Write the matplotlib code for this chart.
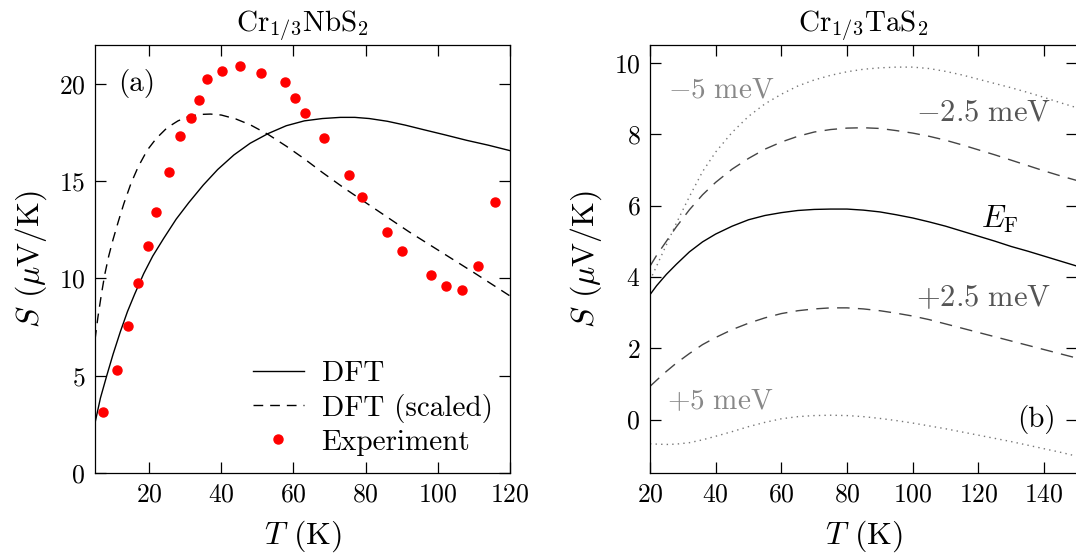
import matplotlib
matplotlib.use("Agg")
import matplotlib.pyplot as plt

plt.rcParams["font.family"] = "serif"
plt.rcParams["font.serif"] = ["cmr10"]
plt.rcParams["mathtext.fontset"] = "cm"
plt.rcParams["axes.formatter.use_mathtext"] = True
plt.rcParams["axes.unicode_minus"] = True

# --- panel (a): Cr1/3NbS2 ---
T_exp = [7.1, 11.2, 14.2, 16.9, 19.6, 22.0, 25.6, 28.5, 31.6, 33.8, 36.1, 40.1,
         45.1, 51.0, 57.7, 60.4, 63.1, 68.4, 75.3, 79.0, 86.0, 90.0, 98.1, 102.3,
         106.8, 111.2, 115.8]
S_exp = [3.15, 5.3, 7.55, 9.76, 11.67, 13.4, 15.49, 17.3, 18.23, 19.17, 20.25, 20.66,
         20.9, 20.56, 20.1, 19.27, 18.49, 17.2, 15.32, 14.21, 12.38, 11.4, 10.18, 9.62,
         9.4, 10.65, 13.92]

T_dft = [5, 6.5, 8.25, 10.0, 12.0, 14.0, 16.0, 18.5, 21.0, 24.0, 27.5, 31.0, 35.0,
         39.0, 43.5, 48.0, 53.0, 58.0, 63.0, 68.0, 73.0, 77.0, 81.0, 86.0, 91.0,
         96.0, 102.0, 108.0, 114.0, 120]
S_dft = [2.57, 3.85, 5.0, 6.1, 7.25, 8.3, 9.2, 10.25, 11.15, 12.05, 13.05, 13.9, 14.8,
         15.6, 16.35, 16.95, 17.45, 17.85, 18.1, 18.22, 18.28, 18.28, 18.22, 18.08, 17.88,
         17.65, 17.38, 17.1, 16.85, 16.57]

T_scl = [5, 5.8, 6.7, 7.7, 8.8, 10.0, 11.5, 13.0, 15.0, 17.0, 19.5, 22.0, 25.0,
         28.0, 31.0, 34.0, 37.0, 40.0, 44.0, 48.0, 53.0, 58.0, 63.0, 68.0, 74.0,
         80.0, 86.0, 92.0, 98.0, 104.0, 110.0, 115.0, 120]
S_scl = [6.85, 8.0, 9.1, 10.2, 11.15, 12.0, 12.95, 13.85, 14.9, 15.75, 16.6, 17.2, 17.75,
         18.1, 18.33, 18.43, 18.45, 18.4, 18.2, 17.9, 17.4, 16.8, 16.15, 15.45, 14.65,
         13.9, 13.15, 12.4, 11.7, 11.0, 10.3, 9.7, 9.1]

# --- panel (b): Cr1/3TaS2 ---
T_b = [20, 22, 25, 28, 32, 36, 40, 45, 50, 55, 60, 65, 70, 75, 80, 85, 90, 95,
       100, 105, 110, 115, 120, 125, 130, 135, 140, 145, 150]
S_ef = [3.5, 3.75, 4.07, 4.35, 4.7, 4.98, 5.2, 5.42, 5.6, 5.72, 5.8, 5.86, 5.89,
        5.9, 5.9, 5.87, 5.82, 5.74, 5.65, 5.54, 5.42, 5.28, 5.14, 5.0, 4.85, 4.72,
        4.58, 4.44, 4.3]
S_m25 = [4.3, 4.6, 5.0, 5.4, 5.88, 6.3, 6.65, 7.02, 7.32, 7.58, 7.78, 7.94, 8.06,
         8.13, 8.17, 8.18, 8.16, 8.1, 8.03, 7.94, 7.83, 7.7, 7.56, 7.42, 7.27, 7.12,
         6.97, 6.83, 6.7]
S_m5 = [3.9, 4.3, 4.9, 5.5, 6.25, 6.95, 7.5, 8.05, 8.5, 8.85, 9.12, 9.35, 9.52,
        9.65, 9.75, 9.82, 9.86, 9.88, 9.88, 9.84, 9.76, 9.66, 9.54, 9.42, 9.3, 9.17,
        9.03, 8.88, 8.74]
S_p25 = [0.93, 1.1, 1.35, 1.58, 1.85, 2.1, 2.3, 2.52, 2.7, 2.85, 2.97, 3.05, 3.1,
         3.13, 3.13, 3.1, 3.05, 2.98, 2.9, 2.8, 2.68, 2.56, 2.44, 2.32, 2.2, 2.08,
         1.96, 1.84, 1.72]
S_p5 = [-0.68, -0.69, -0.7, -0.69, -0.65, -0.57, -0.47, -0.34, -0.2, -0.08, 0.02, 0.08, 0.11,
        0.12, 0.11, 0.08, 0.03, -0.03, -0.1, -0.18, -0.26, -0.35, -0.44, -0.53, -0.62,
        -0.72, -0.82, -0.92, -1.03]

W, H = 1076, 554
fig = plt.figure(figsize=(W / 100, H / 100), dpi=100)
ax1 = fig.add_axes([95 / W, (H - 473) / H, 415 / W, 428 / H])
ax2 = fig.add_axes([650 / W, (H - 473) / H, 427 / W, 428 / H])

ax1.plot(T_dft, S_dft, color="black", lw=1.0, label="DFT")
ax1.plot(T_scl, S_scl, color="black", lw=1.0, dashes=(7, 5), label="DFT (scaled)")
ax1.plot(T_exp, S_exp, "o", color="red", ms=6.5, mec="red", label="Experiment")
ax1.set_xlim(5, 120)
ax1.set_ylim(0, 22)
ax1.set_xticks([20, 40, 60, 80, 100, 120])
ax1.set_yticks([0, 5, 10, 15, 20])
ax1.set_title(r"Cr$_{1/3}$NbS$_2$", fontsize=21, pad=9)
ax1.text(0.055, 0.91, "(a)", transform=ax1.transAxes, fontsize=21, va="center")
ax1.legend(loc="lower right", bbox_to_anchor=(1.0, 0.0), frameon=False, fontsize=21,
           handlelength=1.75, handletextpad=0.6, labelspacing=0.22, borderaxespad=0.2)

ax2.plot(T_b, S_m5, color="#777777", lw=1.0, dashes=(1, 3))
ax2.plot(T_b, S_m25, color="#444444", lw=1.0, dashes=(9, 6))
ax2.plot(T_b, S_ef, color="black", lw=1.0)
ax2.plot(T_b, S_p25, color="#444444", lw=1.0, dashes=(9, 6))
ax2.plot(T_b, S_p5, color="#777777", lw=1.0, dashes=(1, 3))
ax2.set_xlim(20, 150)
ax2.set_ylim(-1.5, 10.5)
ax2.set_xticks([20, 40, 60, 80, 100, 120, 140])
ax2.set_yticks([0, 2, 4, 6, 8, 10])
ax2.set_title(r"Cr$_{1/3}$TaS$_2$", fontsize=21, pad=9)
ax2.text(0.042, 0.895, r"$-5\ \mathrm{meV}$", transform=ax2.transAxes, fontsize=21,
         va="center", color="#888888")
ax2.text(0.624, 0.841, r"$-2.5\ \mathrm{meV}$", transform=ax2.transAxes, fontsize=22,
         va="center", color="#555555")
ax2.text(0.775, 0.592, r"$E_\mathrm{F}$", transform=ax2.transAxes, fontsize=22,
         va="center", color="black")
ax2.text(0.624, 0.409, r"$+2.5\ \mathrm{meV}$", transform=ax2.transAxes, fontsize=22,
         va="center", color="#555555")
ax2.text(0.04, 0.166, r"$+5\ \mathrm{meV}$", transform=ax2.transAxes, fontsize=21,
         va="center", color="#888888")
ax2.text(0.951, 0.124, "(b)", transform=ax2.transAxes, fontsize=21, va="center",
         ha="right")

for ax in (ax1, ax2):
    ax.tick_params(direction="in", top=True, right=True, length=8, width=0.9,
                   labelsize=18.5, pad=7)
    for sp in ax.spines.values():
        sp.set_linewidth(0.9)
    ax.set_xlabel(r"$T$ (K)", fontsize=23, labelpad=9)
    ax.set_ylabel(r"$S$ ($\mu$V/K)", fontsize=23, labelpad=7)

fig.savefig("out.png", dpi=100)
